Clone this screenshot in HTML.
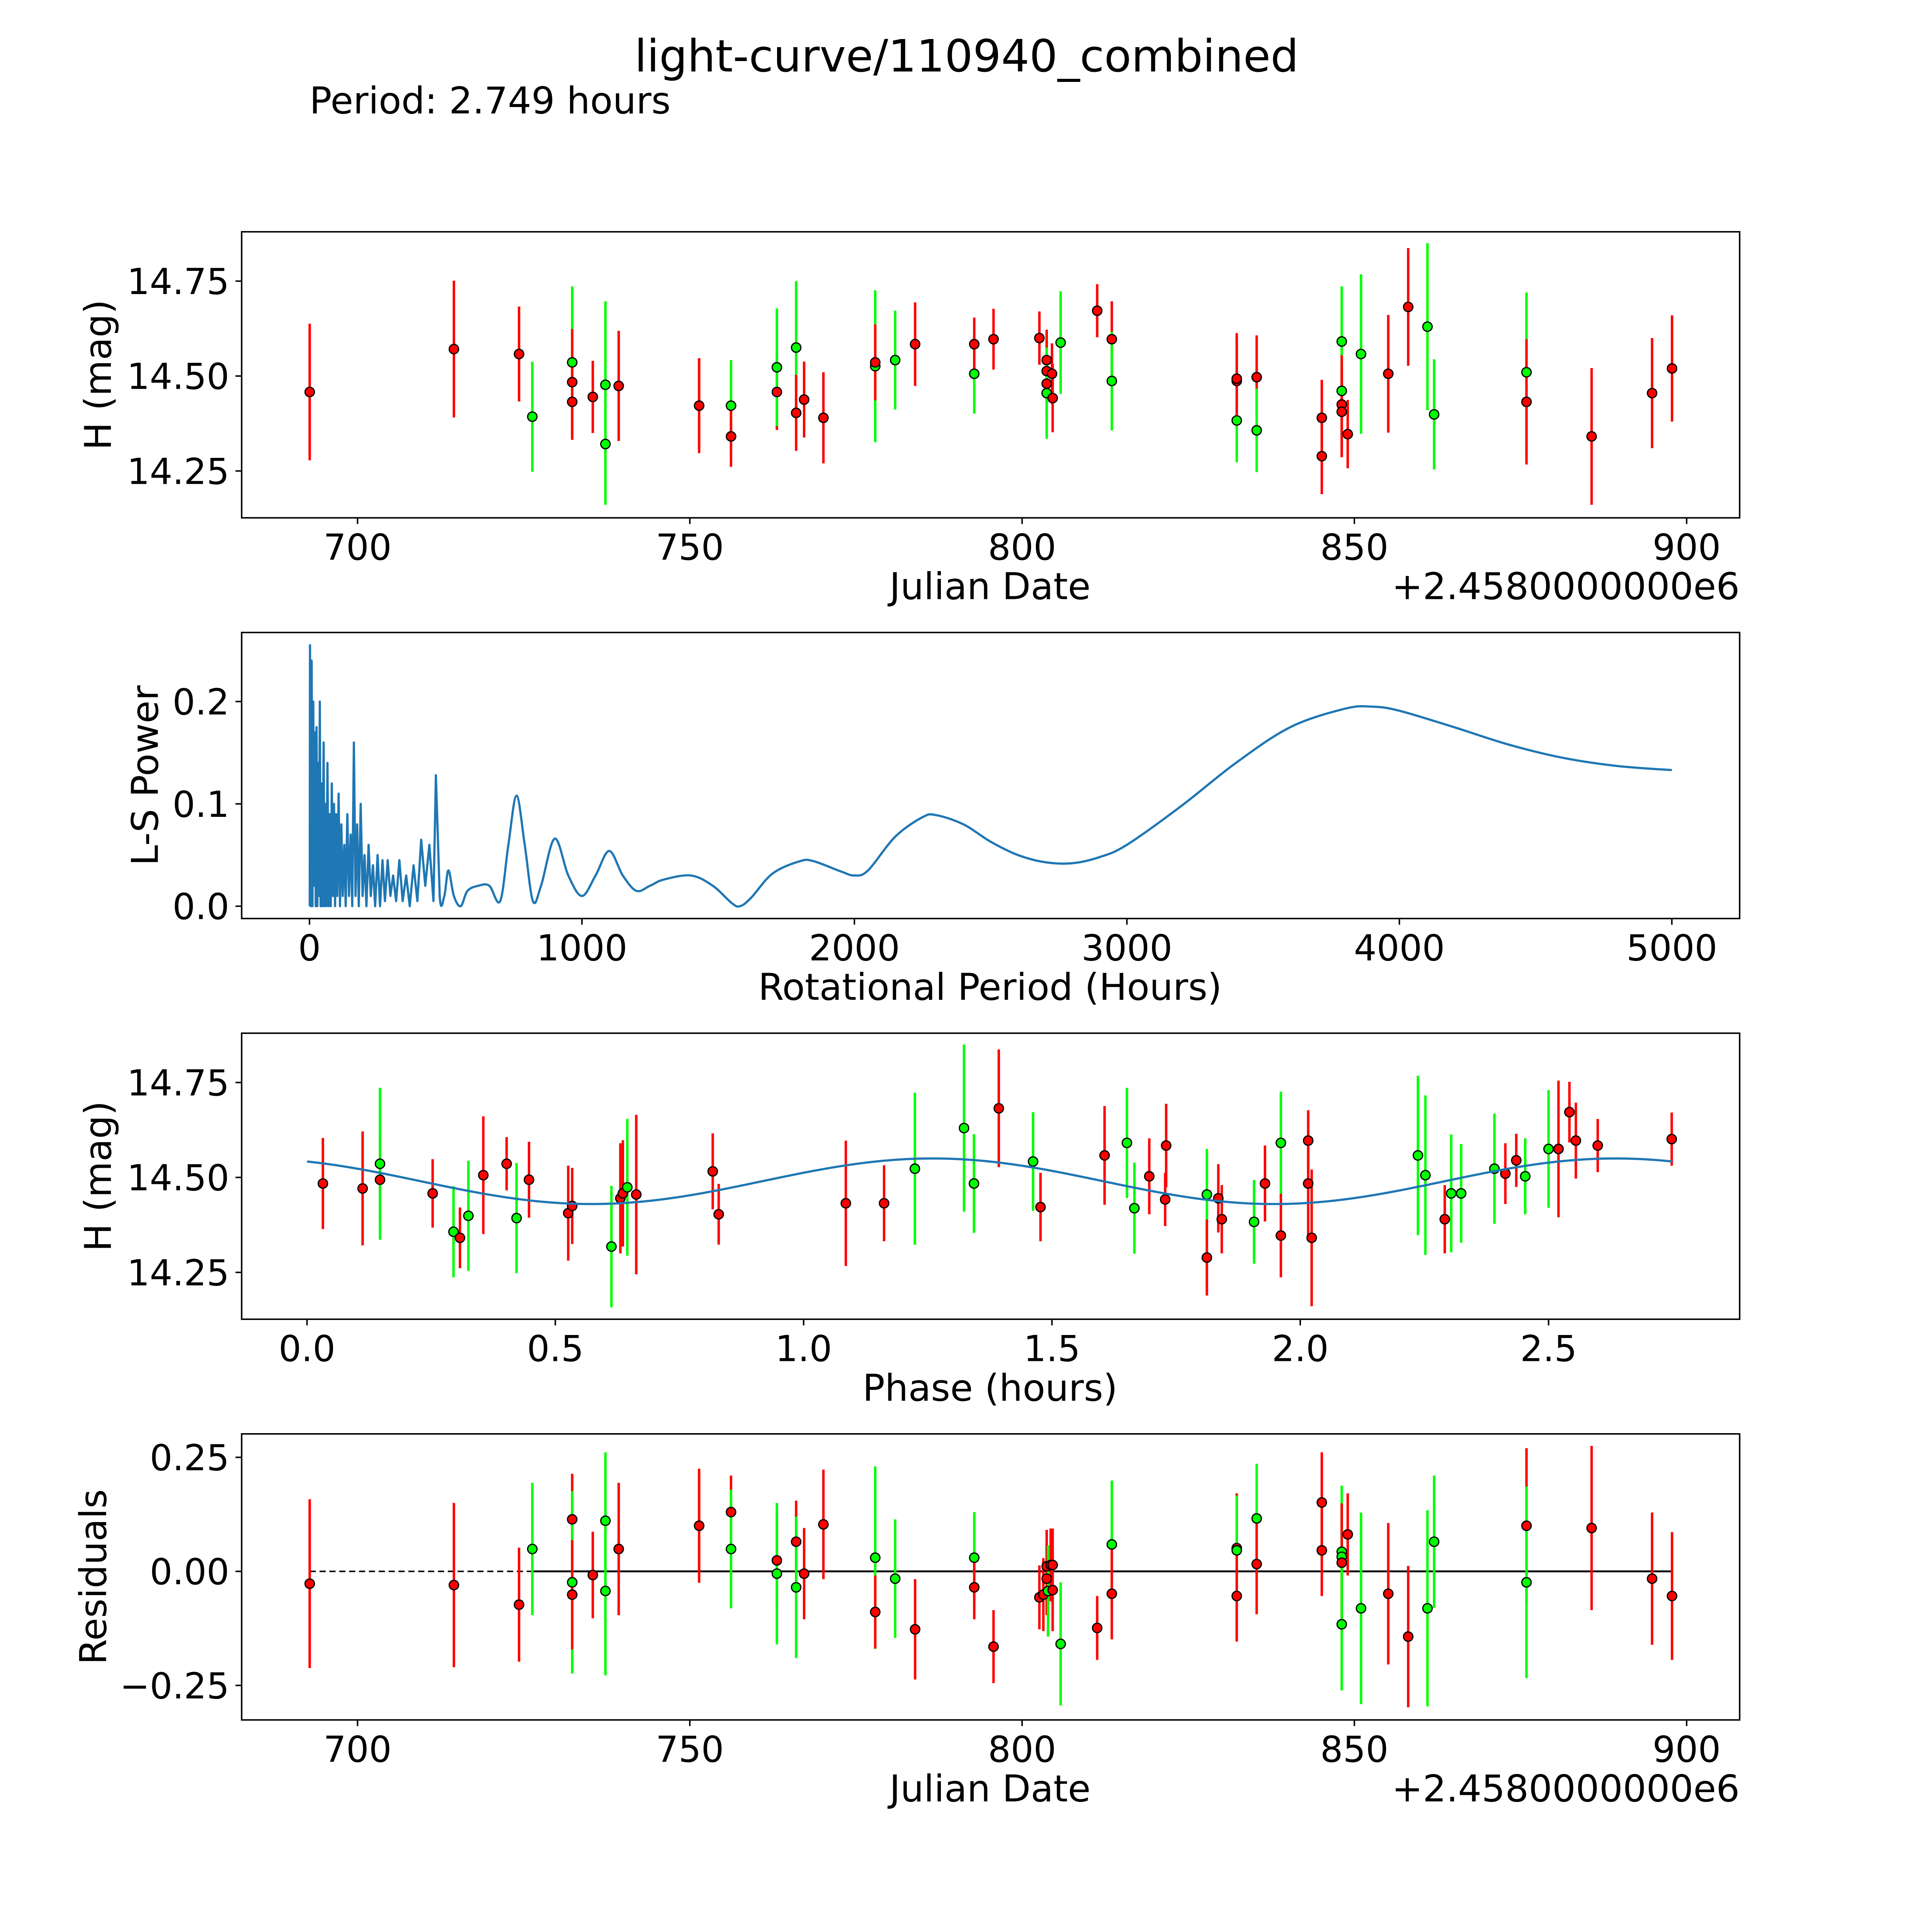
<!DOCTYPE html>
<html><head><meta charset="utf-8">
<style>
html,body{margin:0;padding:0;background:#fff;overflow:hidden;width:100vw;height:100vh;}
svg{display:block;position:fixed;left:0;top:0;width:100vw;height:100vh;}
text{font-family:"DejaVu Sans","Liberation Sans",sans-serif;fill:#000;}
</style></head>
<body>
<svg id="chart" xmlns="http://www.w3.org/2000/svg" viewBox="0 0 1567 1567" preserveAspectRatio="none">
<rect x="0" y="0" width="1567" height="1567" fill="#fff"/>
<text x="784" y="58" font-size="36" text-anchor="middle">light-curve/110940_combined</text>
<text x="251" y="92" font-size="30">Period: 2.749 hours</text>
<g id="g1"></g>
<g id="g2"></g>
<g id="g3"></g>
<g id="g4"></g>
</svg>
<script>
// ---------- data ----------
const p1Date=[692.8,714.5,724.3,726.3,732.3,732.3,732.3,735.4,737.3,737.3,739.3,751.4,756.2,756.2,763.1,763.1,766.0,766.0,767.2,770.1,777.9,777.9,780.9,783.9,792.8,792.8,795.7,802.6,803.7,803.7,803.7,803.7,804.5,804.6,805.8,811.3,813.5,813.5,832.3,832.3,832.3,835.3,835.3,845.1,845.1,848.1,848.1,848.1,848.1,849.0,851.0,855.1,858.1,861.0,862.0,875.9,875.9,885.7,894.8,897.8];
const p1Mag=[14.458,14.571,14.558,14.393,14.536,14.484,14.432,14.445,14.477,14.321,14.474,14.422,14.422,14.341,14.458,14.523,14.575,14.403,14.438,14.390,14.526,14.536,14.542,14.584,14.506,14.584,14.597,14.600,14.542,14.513,14.480,14.455,14.506,14.442,14.588,14.672,14.597,14.487,14.383,14.487,14.493,14.497,14.357,14.390,14.289,14.591,14.461,14.425,14.406,14.347,14.558,14.506,14.682,14.630,14.399,14.510,14.432,14.341,14.455,14.520];
const p1Err=[0.18,0.18,0.125,0.145,0.2,0.14,0.1,0.095,0.22,0.16,0.145,0.125,0.12,0.08,0.1,0.155,0.175,0.1,0.1,0.12,0.2,0.1,0.13,0.11,0.105,0.07,0.08,0.07,0.08,0.08,0.09,0.12,0.08,0.09,0.135,0.07,0.1,0.13,0.11,0.1,0.12,0.11,0.11,0.1,0.1,0.145,0.12,0.13,0.12,0.09,0.21,0.155,0.155,0.22,0.145,0.21,0.165,0.18,0.145,0.14];
const p1Col=['r','r','r','g','g','r','r','r','g','g','r','r','g','r','r','g','g','r','r','r','g','r','g','r','g','r','r','r','r','r','r','g','r','r','g','r','r','g','g','r','r','r','g','r','r','g','g','r','r','r','g','r','r','g','g','g','r','r','r','r'];

const lsPeriod=[1,2,5,8,11,14,17,20,23,26,29,32,35,38,41,45,48,52,55,58,62,66,70,74,78,82,86,90,94,98,102,107,112,117,122,128,133,139,145,151,157,163,169,175,181,188,195,202,209,217,225,233,241,250,259,268,277,287,297,307,318,330,342,355,368,382,396,410,425,440,455,464,478,495,510,530,555,580,620,660,700,730,760,790,820,850,900,950,1000,1050,1100,1150,1200,1250,1300,1400,1480,1550,1580,1620,1700,1800,1850,1950,2000,2050,2150,2250,2300,2400,2500,2600,2700,2800,2900,3000,3200,3400,3600,3800,3900,4000,4200,4400,4600,4800,5000];
const lsPower=[0.0,0.255,0.0,0.24,0.0,0.2,0.02,0.17,0.0,0.175,0.0,0.14,0.01,0.2,0.0,0.12,0.0,0.16,0.0,0.1,0.0,0.14,0.0,0.09,0.0,0.12,0.01,0.1,0.0,0.09,0.01,0.11,0.0,0.08,0.01,0.06,0.0,0.09,0.01,0.07,0.0,0.16,0.01,0.08,0.0,0.1,0.01,0.05,0.0,0.06,0.01,0.04,0.0,0.05,0.0,0.045,0.005,0.045,0.01,0.03,0.005,0.045,0.005,0.03,0.0,0.04,0.005,0.065,0.02,0.06,0.005,0.128,0.01,0.01,0.035,0.01,0.0,0.015,0.02,0.02,0.005,0.06,0.108,0.06,0.005,0.02,0.066,0.03,0.01,0.03,0.054,0.03,0.015,0.02,0.026,0.03,0.02,0.003,0.0,0.008,0.032,0.044,0.044,0.034,0.03,0.035,0.068,0.087,0.089,0.08,0.063,0.05,0.043,0.042,0.048,0.06,0.098,0.14,0.175,0.193,0.195,0.191,0.175,0.158,0.145,0.137,0.133];

const phX=[0.032,0.112,0.147,0.147,0.253,0.295,0.308,0.325,0.355,0.402,0.422,0.447,0.526,0.534,0.613,0.631,0.636,0.645,0.663,0.817,0.829,1.085,1.162,1.224,1.323,1.343,1.393,1.462,1.477,1.606,1.651,1.666,1.696,1.728,1.730,1.812,1.812,1.835,1.842,1.907,1.929,1.961,1.961,2.016,2.016,2.023,2.237,2.252,2.291,2.304,2.324,2.391,2.413,2.435,2.453,2.500,2.520,2.542,2.555,2.599,2.748];
const phMag=[14.484,14.471,14.494,14.536,14.458,14.357,14.341,14.399,14.506,14.536,14.393,14.494,14.406,14.425,14.318,14.445,14.458,14.474,14.455,14.516,14.403,14.432,14.432,14.523,14.630,14.484,14.682,14.542,14.422,14.558,14.591,14.419,14.503,14.442,14.584,14.455,14.289,14.445,14.390,14.383,14.484,14.591,14.347,14.597,14.484,14.341,14.558,14.506,14.390,14.458,14.458,14.523,14.510,14.545,14.503,14.575,14.575,14.672,14.597,14.584,14.601];
const phErr=[0.12,0.15,0.11,0.2,0.09,0.12,0.08,0.145,0.155,0.07,0.145,0.1,0.125,0.1,0.16,0.145,0.14,0.18,0.21,0.1,0.08,0.165,0.1,0.2,0.22,0.13,0.155,0.13,0.09,0.13,0.145,0.12,0.1,0.07,0.11,0.12,0.1,0.09,0.09,0.11,0.1,0.135,0.11,0.08,0.14,0.18,0.21,0.21,0.09,0.155,0.13,0.145,0.08,0.07,0.1,0.155,0.18,0.08,0.1,0.07,0.07];
const phCol=['r','r','r','g','r','g','r','g','r','r','g','r','r','r','g','r','r','g','r','r','r','r','r','g','g','g','r','g','r','r','g','g','r','r','r','g','r','r','r','g','r','g','r','r','r','r','g','g','r','g','g','g','r','r','g','g','r','r','r','r','r'];
const modelMean=[14.49];
const modelAmp=[0.06];
const modelPeakPhase=[1.26];
const modelCycle=[1.3745];

const resDate=[692.8,714.5,724.3,726.3,732.3,732.3,732.3,735.4,737.3,737.3,739.3,751.4,756.2,756.2,763.1,763.1,766.0,766.0,767.2,770.1,777.9,777.9,780.9,783.9,792.8,792.8,795.7,802.6,803.2,803.7,803.7,803.9,804.3,804.6,804.6,805.8,811.3,813.5,813.5,832.3,832.3,832.3,835.3,835.3,845.1,845.1,848.1,848.1,848.1,848.1,849.0,851.0,855.1,858.1,861.0,862.0,875.9,875.9,885.7,894.8,897.8];
const resVal=[-0.027,-0.030,-0.073,0.049,0.114,-0.024,-0.051,-0.008,0.111,-0.043,0.049,0.100,0.130,0.049,0.024,-0.005,0.065,-0.035,-0.005,0.103,0.030,-0.089,-0.016,-0.127,0.030,-0.035,-0.165,-0.057,-0.051,0.011,-0.016,-0.043,0.014,-0.041,0.014,-0.159,-0.124,0.059,-0.049,0.051,0.046,-0.054,0.116,0.016,0.151,0.046,0.043,0.032,0.019,-0.116,0.081,-0.081,-0.049,-0.143,-0.081,0.065,0.100,-0.024,0.095,-0.016,-0.054];
const resErr=[0.185,0.18,0.125,0.145,0.1,0.2,0.12,0.095,0.15,0.185,0.145,0.125,0.08,0.13,0.1,0.155,0.09,0.155,0.1,0.12,0.2,0.08,0.13,0.11,0.1,0.07,0.08,0.07,0.08,0.08,0.08,0.1,0.08,0.09,0.08,0.135,0.07,0.14,0.1,0.12,0.12,0.1,0.12,0.11,0.11,0.1,0.145,0.12,0.13,0.145,0.09,0.21,0.155,0.155,0.215,0.145,0.17,0.21,0.18,0.145,0.14];
const resCol=['r','r','r','g','r','g','r','r','g','g','r','r','r','g','r','g','r','g','r','r','g','r','g','r','g','r','r','r','r','r','r','g','r','r','r','g','r','g','r','r','g','r','g','r','r','r','g','g','r','g','r','g','r','r','g','g','r','g','r','r','r'];

const xTicksJD=[700,750,800,850,900];
const yTicksMag=[14.25,14.50,14.75];
const xTicksLS=[0,1000,2000,3000,4000,5000];
const yTicksLS=[0.0,0.1,0.2];
const xTicksPh=[0.0,0.5,1.0,1.5,2.0,2.5];
const yTicksRes=[-0.25,0.00,0.25];

// ---------- helpers ----------
const NS='http://www.w3.org/2000/svg';
function mk(parent,tag,attrs){const e=document.createElementNS(NS,tag);for(const k in attrs)e.setAttribute(k,attrs[k]);parent.appendChild(e);return e;}
function lin(d0,d1,r0,r1){return v=>r0+(v-d0)*(r1-r0)/(d1-d0);}
const COL={r:'#ff0000',g:'#00ff00'};
const TFS=29, LFS=30;

function frame(g,L,T,R,B,xs,ys,xt,yt,xfmt,yfmt,name){
  const f=mk(g,'rect',{x:L,y:T,width:R-L,height:B-T,fill:'none',stroke:'#000','stroke-width':1.2});
  
  
  xt.forEach(v=>{const x=xs(v);
    mk(g,'line',{x1:x,y1:B,x2:x,y2:B+5,stroke:'#000','stroke-width':1.2});
    const t=mk(g,'text',{x:x,y:B+34,'font-size':TFS,'text-anchor':'middle'});t.textContent=xfmt(v);
    
    });
  yt.forEach(v=>{const y=ys(v);
    mk(g,'line',{x1:L-5,y1:y,x2:L,y2:y,stroke:'#000','stroke-width':1.2});
    const t=mk(g,'text',{x:L-10,y:y+10.5,'font-size':TFS,'text-anchor':'end'});t.textContent=yfmt(v);
    
    });
}
function label(g,x,y,txt,rot,name,anchor){
  const t=mk(g,'text',{x:x,y:y,'font-size':LFS,'text-anchor':anchor||'middle'});
  if(rot)t.setAttribute('transform','rotate(-90 '+x+' '+y+')');
  t.textContent=txt;
  
  
}
function errPoints(g,xs,ys,X,Y,E,C,name){
  for(let i=0;i<X.length;i++){
    const x=xs(X[i]);
    const l=mk(g,'line',{x1:x,x2:x,y1:ys(Y[i]-E[i]),y2:ys(Y[i]+E[i]),stroke:COL[C[i]],'stroke-width':2});
    
    
  }
  for(let i=0;i<X.length;i++){
    const c=mk(g,'circle',{cx:xs(X[i]),cy:ys(Y[i]),r:3.8,fill:COL[C[i]],stroke:'#000','stroke-width':1});
    
    
  }
}
const f2=v=>v.toFixed(2), f0=v=>String(v), f1=v=>v.toFixed(1);

// ---------- panel 1 ----------
(function(){
  const g=document.getElementById('g1');
  const xs=lin(700,900,290,1368), ys=lin(14.75,14.25,228,382);
  frame(g,196,188,1411,420,xs,ys,xTicksJD,yTicksMag,f0,f2,'panel1');
  errPoints(g,xs,ys,p1Date,p1Mag,p1Err,p1Col,'magnitude');
  label(g,803,486,'Julian Date',false,'x-axis-title-julian-date');
  label(g,1411,486,'+2.4580000000e6',false,'x-axis-offset','end');
  label(g,90,304,'H (mag)',true,'y-axis-title-magnitude');
})();
// ---------- panel 2 ----------
(function(){
  const g=document.getElementById('g2');
  const xs=lin(0,5000,251,1356), ys=lin(0,0.2,735,569);
  frame(g,196,513,1411,745,xs,ys,xTicksLS,yTicksLS,f0,f1,'panel2');
  const P=lsPeriod.map((v,i)=>[xs(v),ys(lsPower[i])]);
  let d='M'+P[0][0].toFixed(2)+','+P[0][1].toFixed(2);
  for(let i=1;i<P.length;i++){
    if(lsPeriod[i-1]<470){d+='L'+P[i][0].toFixed(2)+','+P[i][1].toFixed(2);continue;}
    const p0=P[Math.max(0,i-2)],p1=P[i-1],p2=P[i],p3=P[Math.min(P.length-1,i+1)];
    const c1x=p1[0]+(p2[0]-p0[0])/6,c1y=p1[1]+(p2[1]-p0[1])/6;
    const c2x=p2[0]-(p3[0]-p1[0])/6,c2y=p2[1]-(p3[1]-p1[1])/6;
    d+='C'+c1x.toFixed(2)+','+c1y.toFixed(2)+' '+c2x.toFixed(2)+','+c2y.toFixed(2)+' '+p2[0].toFixed(2)+','+p2[1].toFixed(2);
  }
  const p=mk(g,'path',{d:d,fill:'none',stroke:'#1f77b4','stroke-width':1.8,'stroke-linejoin':'round'});
  
  
  label(g,803,811,'Rotational Period (Hours)',false,'x-axis-title-period');
  label(g,128,629,'L-S Power',true,'y-axis-title-power');
})();
// ---------- panel 3 ----------
(function(){
  const g=document.getElementById('g3');
  const xs=lin(0,2.5,249,1256), ys=lin(14.75,14.25,878,1032);
  frame(g,196,838,1411,1070,xs,ys,xTicksPh,yTicksMag,f1,f2,'panel3');
  errPoints(g,xs,ys,phX,phMag,phErr,phCol,'phase');
  let d='';const N=300,max=2.749;
  for(let i=0;i<=N;i++){const ph=max*i/N;const v=modelMean[0]+modelAmp[0]*Math.cos(2*Math.PI*(ph-modelPeakPhase[0])/modelCycle[0]);
    d+=(i?'L':'M')+xs(ph).toFixed(2)+','+ys(v).toFixed(2);}
  const p=mk(g,'path',{d:d,fill:'none',stroke:'#1f77b4','stroke-width':1.8});
  
  
  label(g,803,1136,'Phase (hours)',false,'x-axis-title-phase');
  label(g,90,954,'H (mag)',true,'y-axis-title-magnitude-phase');
})();
// ---------- panel 4 ----------
(function(){
  const g=document.getElementById('g4');
  const xs=lin(700,900,290,1368), ys=lin(0.25,-0.25,1182,1367);
  frame(g,196,1163,1411,1395,xs,ys,xTicksJD,yTicksRes,f0,v=>(v<0?'\u22120.25':v.toFixed(2)),'panel4');
  const z1=mk(g,'line',{x1:xs(692.8),x2:xs(726.3),y1:ys(0),y2:ys(0),stroke:'#000','stroke-width':1.2,'stroke-dasharray':'5,3'});
  
  
  const z2=mk(g,'line',{x1:xs(726.3),x2:xs(897.8),y1:ys(0),y2:ys(0),stroke:'#000','stroke-width':1.5});
  
  
  errPoints(g,xs,ys,resDate,resVal,resErr,resCol,'residual');
  label(g,803,1461,'Julian Date',false,'x-axis-title-julian-date-residuals');
  label(g,1411,1461,'+2.4580000000e6',false,'x-axis-offset-residuals','end');
  label(g,86,1279,'Residuals',true,'y-axis-title-residuals');
})();
</script>
</body></html>
